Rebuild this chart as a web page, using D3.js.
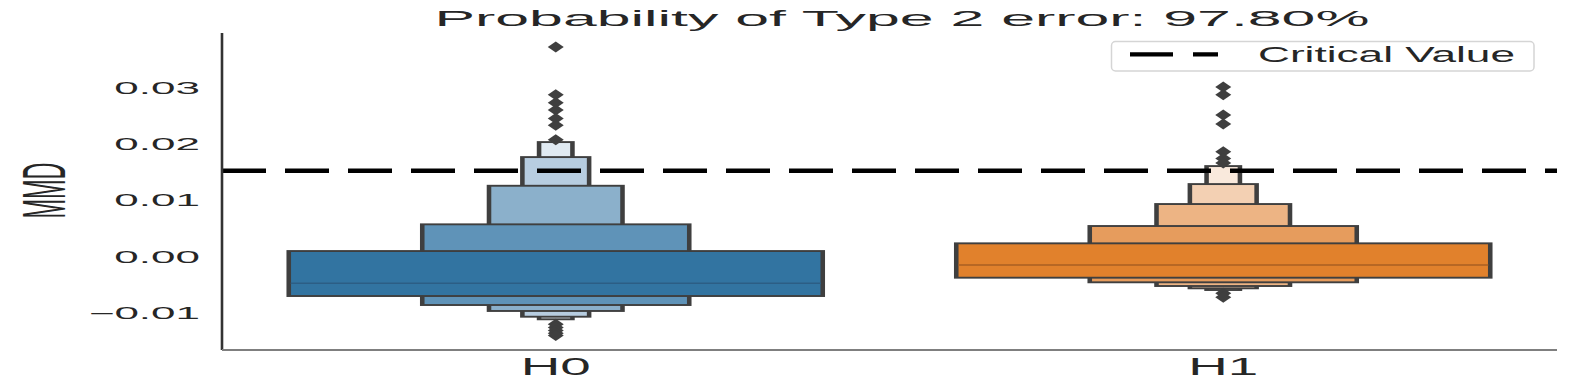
<!DOCTYPE html>
<html>
<head>
<meta charset="utf-8">
<script src="https://cdn.jsdelivr.net/npm/d3@7"></script>
<style>
  body { margin: 0; background: #fff; }
  text { font-family: "Liberation Sans", Arial, sans-serif; fill: #262626; }
</style>
</head>
<body>
<script>
// boxenplot of MMD under H0 / H1, with the critical value as a dashed line

var groups = ["H0", "H1"];
var baseColors = ["#3274a1", "#e1812c"];
// level colours, innermost (widest) box first
var levelColors = [
    ["#3274a1", "#5f93b8", "#8bb0cb", "#b7cde0", "#e0eaf2"],
    ["#e1812c", "#e69c5d", "#edb484", "#f3d0b3", "#f9e9dc"]
];
var medianColors = ["#2c5e85", "#a95f22"];

// letter value boxes: upper and lower ends per level (level 1 = inner box)
var upperH0 = [0.00102, 0.00577, 0.01263, 0.01773, 0.0204];
var lowerH0 = [-0.00698, -0.00858, -0.00964, -0.01066, -0.01112];
var upperH1 = [0.00239, 0.00547, 0.00938, 0.01293, 0.01613];
var lowerH1 = [-0.00372, -0.00454, -0.0052, -0.00561, -0.00591];
var medians = [-0.00472, -0.00147];

var outliersH0 = [0.0373, 0.0288, 0.0274, 0.0261, 0.0246, 0.0234, 0.0208,
                  -0.0120, -0.0126, -0.0131, -0.0136, -0.0140];
var outliersH1 = [0.0302, 0.0288, 0.0252, 0.0236, 0.0187, 0.0175, 0.0167,
                  -0.0065, -0.0072];

var criticalValue = 0.0153;
var yTicks = [-0.01, 0.00, 0.01, 0.02, 0.03];
var titleText = "Probability of Type 2 error: 97.80%";

var upper = [upperH0, upperH1];
var lower = [lowerH0, lowerH1];
var outliers = [outliersH0, outliersH1];

var W = 1578, H = 388;
var S = 2.4; // the picture is stretched sideways, strokes too

var svg = d3.select("body").append("svg")
    .attr("width", W)
    .attr("height", H);

var x = d3.scaleLinear().domain([-0.5, 1.5]).range([222, 1557]);
var y = d3.scaleLinear().domain([-0.01658, 0.0398]).range([350, 33]);

// boxes, outer levels first so the inner ones sit on top
groups.forEach((gname, i) => {
    var cx = x(i);
    var g = svg.append("g")
        .attr("transform", `translate(${cx},0) scale(${S},1)`);
    var levels = d3.range(upper[i].length).reverse();
    levels.forEach(k => {
        var w = 0.8 / Math.pow(2, k);
        var x0 = (x(i - w / 2) - cx) / S;
        var x1 = (x(i + w / 2) - cx) / S;
        g.append("rect")
            .attr("x", x0)
            .attr("width", x1 - x0)
            .attr("y", y(upper[i][k]))
            .attr("height", y(lower[i][k]) - y(upper[i][k]))
            .attr("fill", levelColors[i][k])
            .attr("stroke", "#3f3f3f")
            .attr("stroke-width", 1.9);
    });
    // median line
    var wm = 0.8;
    g.append("line")
        .attr("x1", (x(i - wm / 2) - cx) / S + 0.8)
        .attr("x2", (x(i + wm / 2) - cx) / S - 0.8)
        .attr("y1", y(medians[i]))
        .attr("y2", y(medians[i]))
        .attr("stroke", medianColors[i])
        .attr("stroke-width", 1.6);

    // outliers as thin diamonds
    svg.append("g").selectAll("path")
        .data(outliers[i])
        .enter().append("path")
        .attr("d", d => {
            var p = d3.path();
            var px = cx, py = y(d);
            p.moveTo(px, py - 5.5);
            p.lineTo(px + 8, py);
            p.lineTo(px, py + 5.5);
            p.lineTo(px - 8, py);
            p.closePath();
            return p.toString();
        })
        .attr("fill", "#3f3f3f");
});

// critical value
svg.append("line")
    .attr("x1", x(-0.5))
    .attr("x2", x(1.5))
    .attr("y1", y(criticalValue))
    .attr("y2", y(criticalValue))
    .attr("stroke", "#000")
    .attr("stroke-width", 4.5)
    .attr("stroke-dasharray", "44,19");

// spines
svg.append("line")
    .attr("x1", 222).attr("x2", 222)
    .attr("y1", y.range()[1]).attr("y2", y.range()[0])
    .attr("stroke", "#333").attr("stroke-width", 2.6);
svg.append("line")
    .attr("x1", x.range()[0]).attr("x2", x.range()[1])
    .attr("y1", 350).attr("y2", 350)
    .attr("stroke", "#7f7f7f").attr("stroke-width", 2.2);

// stretched text helper
function stretch(sel, k) {
    sel.each(function () {
        var len = this.getComputedTextLength();
        d3.select(this)
            .attr("textLength", len * k)
            .attr("lengthAdjust", "spacingAndGlyphs");
    });
}

// y tick labels
var fmt = d3.format(".2f");
svg.append("g").selectAll("text")
    .data(yTicks)
    .enter().append("text")
    .attr("x", 200)
    .attr("y", d => y(d) + 5.8)
    .attr("text-anchor", "end")
    .attr("font-size", "16.3px")
    .text(d => fmt(d).replace("-", "\u2212"))
    .call(stretch, 2.7);

// x tick labels
svg.append("g").selectAll("text")
    .data(groups)
    .enter().append("text")
    .attr("x", (d, i) => x(i))
    .attr("y", 375)
    .attr("text-anchor", "middle")
    .attr("font-size", "23.5px")
    .attr("textLength", 70)
    .attr("lengthAdjust", "spacingAndGlyphs")
    .text(d => d);

// y label
svg.append("text")
    .attr("transform", `translate(65,190.5) scale(${S * 1.08},1) rotate(-90)`)
    .attr("text-anchor", "middle")
    .attr("font-size", "23.5px")
    .text("MMD");

// title
svg.append("text")
    .attr("x", 902)
    .attr("y", 26)
    .attr("text-anchor", "middle")
    .attr("font-size", "22.8px")
    .attr("textLength", 935)
    .attr("lengthAdjust", "spacingAndGlyphs")
    .text(titleText);

// legend
var leg = svg.append("g");
leg.append("rect")
    .attr("x", 1111.5).attr("y", 41.5)
    .attr("width", 422.5).attr("height", 29.5)
    .attr("rx", 4)
    .attr("fill", "#fff")
    .attr("fill-opacity", 0.8)
    .attr("stroke", "#d5d5d5")
    .attr("stroke-width", 1.5);
leg.append("line")
    .attr("x1", 1130).attr("x2", 1218)
    .attr("y1", 54.3).attr("y2", 54.3)
    .attr("stroke", "#000")
    .attr("stroke-width", 4.2)
    .attr("stroke-dasharray", "43,20");
leg.append("text")
    .attr("x", 1258)
    .attr("y", 61.7)
    .attr("font-size", "21.5px")
    .attr("textLength", 257)
    .attr("lengthAdjust", "spacingAndGlyphs")
    .text("Critical Value");
</script>
</body>
</html>
